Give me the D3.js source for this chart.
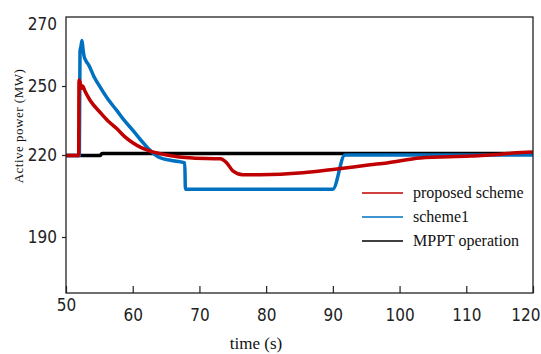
<!DOCTYPE html>
<html>
<head>
<meta charset="utf-8">
<script src="https://cdn.jsdelivr.net/npm/d3@7"></script>
<style>
  body { margin: 0; background: #fff; }
  svg { display: block; }
</style>
</head>
<body>
<svg id="chart" width="541" height="354"></svg>
<script>
// time (s) and active power (MW)
var timeProposed = [50, 51.9, 51.95, 52.1, 52.3, 52.5, 52.8, 53.6, 55.1, 56.3, 57.6, 58.8, 60.0, 61.2, 62.5, 63.8, 65.1, 67.0, 69.0, 73.1, 74.1, 75.0, 76.5, 79.1, 85.5, 90.6, 95.6, 98.1, 103.1, 110.6, 115.5, 117.0, 120];
var powerProposed = [219.8, 219.8, 251.9, 251.3, 249.0, 250.0, 248.0, 243.8, 238.6, 234.8, 231.5, 228.0, 225.3, 223.3, 221.8, 220.8, 220.0, 219.3, 218.9, 218.6, 217.1, 214.2, 212.8, 212.8, 213.5, 214.9, 216.4, 217.1, 218.9, 219.6, 220.4, 220.9, 221.3];

var timeScheme1 = [50, 52.0, 52.1, 52.25, 52.4, 52.55, 52.7, 53.0, 53.45, 54.2, 55.1, 56.3, 57.6, 58.8, 60.0, 61.3, 62.6, 64.1, 66.3, 67.8, 67.9, 90.0, 91.8, 120];
var powerScheme1 = [219.8, 219.8, 261.2, 262.8, 264.7, 261.9, 259.7, 258.1, 256.6, 253.0, 249.6, 244.2, 239.4, 234.8, 230.8, 226.2, 222.0, 219.0, 217.8, 217.1, 207.5, 207.5, 220.0, 220.0];

var timeMppt = [50, 55.1, 55.4, 120];
var powerMppt = [219.8, 219.8, 220.7, 220.7];

var xTicks = [50, 60, 70, 80, 90, 100, 110, 120];
var yTicks = [190, 220, 250, 270];

var seriesNames = ['proposed scheme', 'scheme1', 'MPPT operation'];
var seriesColors = ['#c00000', '#0070c0', '#000000'];

var svg = d3.select('#chart'),
    plotLeft = 66, plotRight = 533, plotTop = 17, plotBottom = 293;

var x = d3.scaleLinear().domain([50, 120]).range([plotLeft, plotRight]);
// the printed y labels are not evenly spaced, so follow them piece by piece
var y = d3.scaleLinear().domain([170, 190, 220, 250, 270]).range([plotBottom, 237, 155, 86, 24]);

var tickFont = '"Liberation Sans Narrow", "DejaVu Sans Condensed", sans-serif';
var serifFont = '"Liberation Serif", "DejaVu Serif", serif';

var xAxis = svg.append('g')
    .attr('transform', 'translate(0,' + plotBottom + ')')
    .call(d3.axisBottom(x).tickValues(xTicks).tickSizeInner(-7).tickSizeOuter(0).tickPadding(16).tickFormat(d3.format('d')));

xAxis.select('.domain').remove();
xAxis.selectAll('line').attr('stroke', '#222').attr('stroke-width', 1.2);
xAxis.selectAll('text')
    .attr('font-family', tickFont)
    .attr('font-size', 17)
    .attr('fill', '#222')
    .attr('dx', function (d) {
        return d === 120 ? '-0.45em' : null;
    })
    .attr('dy', function (d) {
        return d === 50 ? '0.1em' : '0.71em';
    });

var yAxis = svg.append('g')
    .attr('transform', 'translate(' + plotLeft + ',0)')
    .call(d3.axisLeft(y).tickValues(yTicks).tickSizeInner(4).tickSizeOuter(0).tickPadding(5).tickFormat(d3.format('d')));

yAxis.select('.domain').remove();
yAxis.selectAll('line')
    .attr('stroke', '#222')
    .attr('stroke-width', 1.2)
    .attr('display', function (d) {
        return d === 270 ? 'none' : null;
    });
yAxis.selectAll('text')
    .attr('font-family', tickFont)
    .attr('font-size', 17)
    .attr('fill', '#222');

// axis titles
svg.append('text')
    .attr('x', 256)
    .attr('y', 349)
    .attr('text-anchor', 'middle')
    .attr('font-family', serifFont)
    .attr('font-size', 17)
    .attr('fill', '#111')
    .text('time (s)');

svg.append('text')
    .attr('transform', 'translate(23,126) rotate(-90)')
    .attr('text-anchor', 'middle')
    .attr('font-family', serifFont)
    .attr('font-size', 13)
    .attr('letter-spacing', 0.5)
    .attr('fill', '#111')
    .text('Active power (MW)');

// curves
var zip = function (ts, vs) {
    return ts.map(function (t, i) {
        return [t, vs[i]];
    });
};

var line = d3.line()
    .curve(d3.curveMonotoneX)
    .x(function (d) { return x(d[0]); })
    .y(function (d) { return y(d[1]); });

var series = [
    zip(timeMppt, powerMppt),
    zip(timeScheme1, powerScheme1),
    zip(timeProposed, powerProposed)
];
var order = [2, 1, 0];

svg.append('g')
    .selectAll('path')
    .data(series)
    .enter().append('path')
    .attr('d', line)
    .attr('fill', 'none')
    .attr('stroke', function (d, i) {
        return seriesColors[order[i]];
    })
    .attr('stroke-width', 3.5)
    .attr('stroke-linejoin', 'round');

// frame
svg.append('rect')
    .attr('x', plotLeft)
    .attr('y', plotTop)
    .attr('width', plotRight - plotLeft)
    .attr('height', plotBottom - plotTop)
    .attr('fill', 'none')
    .attr('stroke', '#222')
    .attr('stroke-width', 1.3);

// legend
var legend = svg.selectAll('.legend')
    .data(seriesNames)
    .enter().append('g')
    .attr('class', 'legend')
    .attr('transform', function (d, i) {
        return 'translate(362,' + (193 + i * 24) + ')';
    });

legend.append('line')
    .attr('x1', 0)
    .attr('x2', 41)
    .attr('stroke', function (d, i) {
        return seriesColors[i];
    })
    .attr('stroke-width', 1.6);

legend.append('text')
    .attr('x', 51)
    .attr('y', 5)
    .attr('font-family', serifFont)
    .attr('font-size', 16)
    .attr('fill', '#111')
    .text(function (d) {
        return d;
    });
</script>
</body>
</html>
